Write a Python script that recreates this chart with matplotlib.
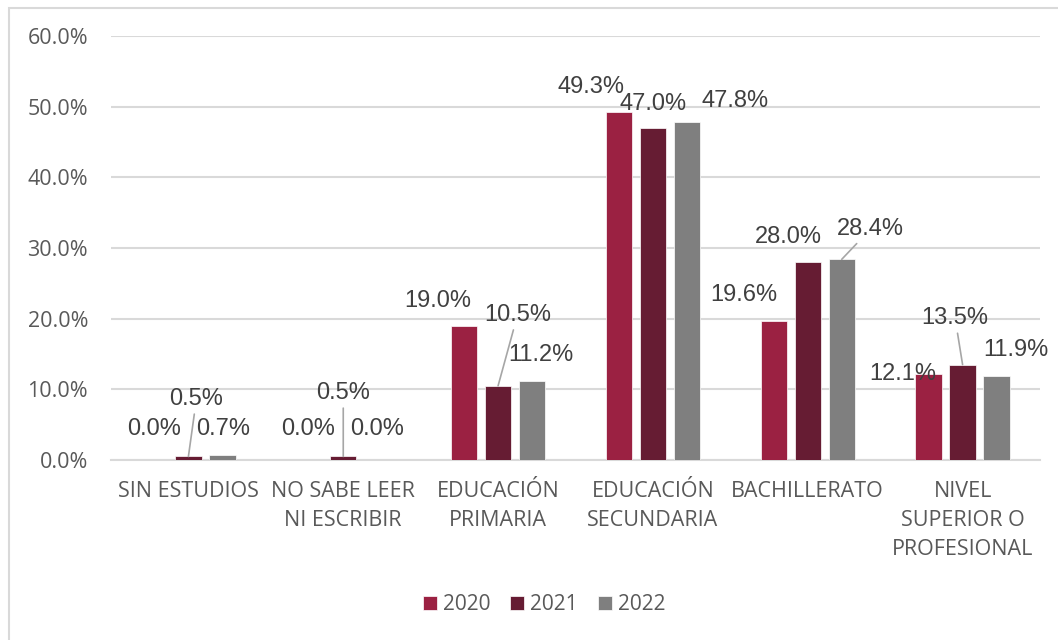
import numpy as np
import matplotlib
matplotlib.use("Agg")
import matplotlib.pyplot as plt
from matplotlib.patches import Rectangle

# data
categories = ["SIN ESTUDIOS", "NO SABE LEER\nNI ESCRIBIR", "EDUCACIÓN\nPRIMARIA",
              "EDUCACIÓN\nSECUNDARIA", "BACHILLERATO", "NIVEL\nSUPERIOR O\nPROFESIONAL"]
years = ["2020", "2021", "2022"]
v2020 = [0.0, 0.0, 19.0, 49.3, 19.6, 12.1]
v2021 = [0.5, 0.5, 10.5, 47.0, 28.0, 13.5]
v2022 = [0.7, 0.0, 11.2, 47.8, 28.4, 11.9]
yticks = [0, 10, 20, 30, 40, 50, 60]

# style
colors = ["#9B2142", "#661C33", "#7F7F7F"]
text_col = "#595959"
grid_col = "#D9D9D9"
lead_col = "#A6A6A6"
# label offsets in pixels (dx, dy) and whether a leader line is drawn
offsets = [
    [(-0.5, 31), (-1, 31), (-26.5, 25), (-28, 25), (-29.5, 26), (-26, 0)],
    [(8, 57.5), (0, 63.5), (19.5, 71), (0, 24), (-19.5, 25.5), (-7.5, 46.5)],
    [(0.5, 26), (0, 31), (8.5, 26), (48.5, 21), (29, 30.5), (19, 26)],
]
leaders = [
    [False] * 6,
    [True, True, True, False, False, True],
    [False, False, False, False, True, False],
]

cat_font = "Open Sans"
lab_font = "Liberation Sans"

fig = plt.figure(figsize=(10.58, 6.40), dpi=100)
ax = fig.add_axes([111 / 1058, 1 - 460 / 640, (1040 - 111) / 1058, (460 - 36) / 640])

x = np.arange(len(categories))
width = 0.171
step = 0.2196
series = [v2020, v2021, v2022]

for i, (vals, col, yr) in enumerate(zip(series, colors, years)):
    xs = x + (i - 1) * step
    ax.bar(xs, vals, width, color=col, edgecolor="white", linewidth=0.5,
           label=yr, zorder=3)
    for j, v in enumerate(vals):
        dx, dy = offsets[i][j]
        arrow = None
        if leaders[i][j]:
            arrow = dict(arrowstyle="-", color=lead_col, lw=1.2,
                         shrinkA=1, shrinkB=0)
        ax.annotate(f"{v:.1f}%", xy=(xs[j], v), xytext=(dx, dy),
                    textcoords="offset pixels", ha="center", va="center",
                    fontsize=17, color="#404040", family=lab_font,
                    arrowprops=arrow, zorder=5)

ax.set_xlim(-0.5, len(categories) - 0.5)
ax.set_ylim(0, 60)
ax.set_yticks(yticks)
ax.set_yticklabels([f"{t:.1f}%" for t in yticks], fontsize=15.5,
                   color=text_col, family=cat_font)
ax.set_xticks(x)
ax.set_xticklabels(categories, fontsize=15.5, color=text_col, family=cat_font,
                   linespacing=1.5)
ax.tick_params(axis="both", length=0)
ax.tick_params(axis="y", pad=16.5)
ax.tick_params(axis="x", pad=15)
ax.yaxis.grid(True, color=grid_col, lw=1.5, zorder=0)
for s in ["top", "right", "left"]:
    ax.spines[s].set_visible(False)
ax.spines["bottom"].set_color(grid_col)
ax.spines["bottom"].set_linewidth(1.5)

leg = fig.legend(loc="center", bbox_to_anchor=(544 / 1058, 1 - 605 / 640), ncol=3,
                 frameon=False, handlelength=0.67, handleheight=0.67,
                 handletextpad=0.3, columnspacing=0.95,
                 prop={"family": cat_font, "size": 15})
for t in leg.get_texts():
    t.set_color(text_col)

fig.patches.append(Rectangle((8.5 / 1058, -0.1), 1.2, 1.1 - 7.5 / 640,
                             transform=fig.transFigure, fill=False,
                             edgecolor=grid_col, lw=1.5))

fig.savefig("out.png", dpi=100)
